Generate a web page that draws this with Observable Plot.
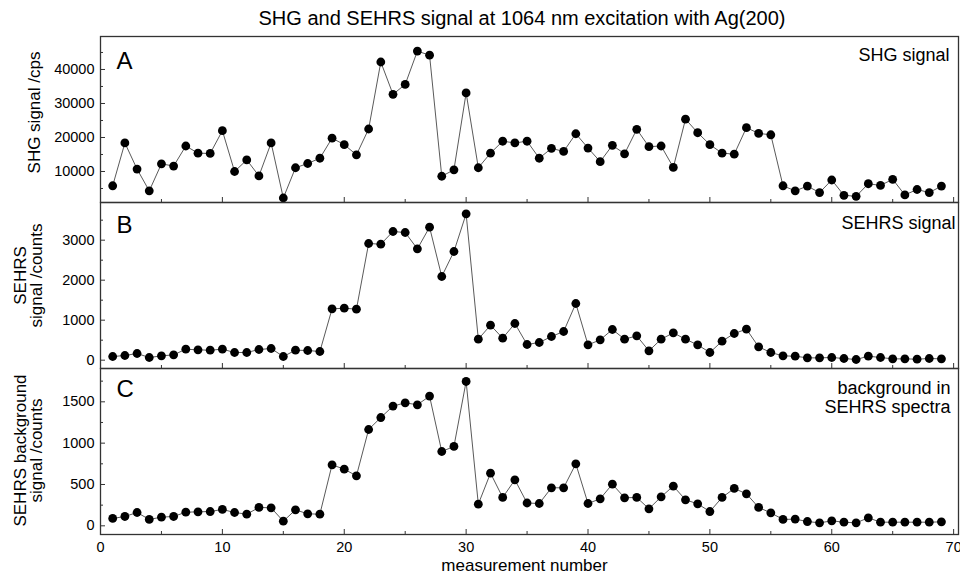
<!DOCTYPE html>
<html>
<head>
<meta charset="utf-8">
<script src="https://cdn.jsdelivr.net/npm/d3@7"></script>
<script src="https://cdn.jsdelivr.net/npm/@observablehq/plot@0.6"></script>
<style>
  html, body { margin: 0; padding: 0; background: #fff; overflow: hidden; }
  #chart { position: relative; width: 960px; height: 575px; font-family: "Liberation Sans", Arial, sans-serif; color: #000; }
  #title { position: absolute; left: 222px; width: 600px; top: 8px; text-align: center; font-size: 20px; line-height: 20px; white-space: nowrap; }
  .panel { position: absolute; left: 0; }
</style>
</head>
<body>
<div id="chart">
  <div id="title">SHG and SEHRS signal at 1064 nm excitation with Ag(200)</div>
</div>
<script>
// ---- data ----
const measurement = [1,2,3,4,5,6,7,8,9,10,11,12,13,14,15,16,17,18,19,20,21,22,23,24,25,26,27,28,29,30,31,32,33,34,35,36,37,38,39,40,41,42,43,44,45,46,47,48,49,50,51,52,53,54,55,56,57,58,59,60,61,62,63,64,65,66,67,68,69];

const shgSignal = [5800,18400,10700,4300,12250,11600,17500,15400,15300,22000,10000,13400,8700,18400,2200,11100,12350,13900,19800,17900,14900,22500,42200,32700,35600,45400,44200,8600,10500,33100,11100,15400,18900,18400,18900,13900,16800,15900,21100,16900,12900,17700,15200,22400,17300,17500,11200,25400,21400,17900,15400,15100,22900,21200,20800,5800,4300,5700,3800,7500,3000,2700,6400,5900,7700,3100,4700,3800,5700];

const sehrsSignal = [92,117,167,67,108,133,275,258,250,275,192,192,267,292,92,250,242,217,1283,1300,1275,2917,2900,3217,3192,2783,3325,2092,2717,3658,525,875,550,917,392,442,592,717,1417,383,508,767,525,608,233,525,683,525,383,192,475,667,775,333,192,108,100,58,58,67,42,17,100,67,33,33,25,42,33];

const sehrsBackground = [89,113,161,77,105,113,165,169,173,198,161,141,222,218,56,194,145,141,738,685,605,1165,1310,1448,1488,1464,1569,899,960,1746,262,637,343,556,276,270,460,460,750,270,327,504,339,343,206,351,480,315,266,173,343,452,387,222,157,77,81,52,36,60,44,36,97,44,44,44,44,44,48];

const xMajorTicks = [0,10,20,30,40,50,60,70];
const xMinorTicks = [5,15,25,35,45,55,65];

const shgMajorTicks = [10000,20000,30000,40000];
const shgMinorTicks = [5000,15000,25000,35000,45000];
const sehrsMajorTicks = [0,1000,2000,3000];
const sehrsMinorTicks = [500,1500,2500,3500];
const bgMajorTicks = [0,500,1000,1500];
const bgMinorTicks = [250,750,1250,1750];

const panelLetters = ["A","B","C"];
const panelNotes = ["SHG signal","SEHRS signal","background in\nSEHRS spectra"];
const yLabels = ["SHG signal /cps","SEHRS\nsignal /counts","SEHRS background\nsignal /counts"];
const xLabel = "measurement number";

// ---- drawing ----
const W = 960, ML = 100, MR = 2;
const innerW = W - ML - MR;
const chart = document.getElementById("chart");
const plain = d => String(d);

function panel(cfg) {
  const data = measurement.map((m, i) => ({m, v: cfg.values[i]}));
  const innerH = cfg.height - 1 - cfg.mb;
  const marks = [
    Plot.ruleX(xMajorTicks, {x: d => d, insetTop: innerH - 5, stroke: "#333", strokeWidth: 1}),
    Plot.ruleX(xMinorTicks, {x: d => d, insetTop: innerH - 3, stroke: "#333", strokeWidth: 1}),
    Plot.ruleY(cfg.yMajor, {y: d => d, insetRight: innerW - 5, stroke: "#333", strokeWidth: 1}),
    Plot.ruleY(cfg.yMinor, {y: d => d, insetRight: innerW - 3, stroke: "#333", strokeWidth: 1}),
    Plot.axisY(cfg.yMajor, {anchor: "left", tickSize: 0, tickPadding: 6, fontSize: 14.5, label: null, tickFormat: plain}),
    Plot.line(data, {x: "m", y: "v", stroke: "#5a5a5a", strokeWidth: 1}),
    Plot.dot(data, {x: "m", y: "v", r: 4.4, fill: "#000", stroke: "none"}),
    Plot.frame({stroke: "#333", strokeWidth: 1.3}),
    Plot.text([cfg.letter], {text: d => d, frameAnchor: "top-left", dx: 16, dy: cfg.letterDy, fontSize: 24, lineAnchor: "top", textAnchor: "start"}),
    Plot.text([cfg.note], {text: d => d, frameAnchor: "top-right", dx: cfg.noteDx, dy: cfg.noteDy, fontSize: 18, lineAnchor: "top", textAnchor: "end", lineHeight: 1.07}),
    Plot.text([cfg.ylabel], {text: d => d, frameAnchor: "left", rotate: -90, dx: cfg.ylabelDx, dy: cfg.ylabelDy, fontSize: 17, lineAnchor: "middle", textAnchor: "middle", lineHeight: 0.94})
  ];
  if (cfg.xAxis) {
    marks.push(Plot.axisX(xMajorTicks, {anchor: "bottom", tickSize: 0, tickPadding: 7, fontSize: 14.5, label: null, tickFormat: plain}));
    marks.push(Plot.text([xLabel], {text: d => d, frameAnchor: "bottom", dx: -5, dy: 31.5, fontSize: 17, lineAnchor: "middle", textAnchor: "middle"}));
  }
  const svg = Plot.plot({
    width: W,
    height: cfg.height,
    marginLeft: ML,
    marginRight: MR,
    marginTop: 1,
    marginBottom: cfg.mb,
    x: {domain: [0, 70.4], axis: null},
    y: {domain: cfg.yDomain, axis: null},
    style: {background: "none", overflow: "visible", fontFamily: "'Liberation Sans', Arial, sans-serif", color: "#000", fontSize: "14.5px"},
    marks
  });
  svg.classList.add("panel");
  svg.style.top = cfg.top + "px";
  chart.appendChild(svg);
}

panel({values: shgSignal, yDomain: [880, 49700], yMajor: shgMajorTicks, yMinor: shgMinorTicks,
  top: 35, height: 168, mb: 1, letter: panelLetters[0], letterDy: 15.5,
  note: panelNotes[0], noteDx: -9, noteDy: 11, ylabel: yLabels[0], ylabelDx: -66, ylabelDy: -7, xAxis: false});

panel({values: sehrsSignal, yDomain: [-208, 3942], yMajor: sehrsMajorTicks, yMinor: sehrsMinorTicks,
  top: 201, height: 168, mb: 1, letter: panelLetters[1], letterDy: 13.5,
  note: panelNotes[1], noteDx: -3, noteDy: 13, ylabel: yLabels[1], ylabelDx: -72, ylabelDy: -10, xAxis: false});

panel({values: sehrsBackground, yDomain: [-105, 1903], yMajor: bgMajorTicks, yMinor: bgMinorTicks,
  top: 367, height: 208, mb: 41, letter: panelLetters[2], letterDy: 11,
  note: panelNotes[2], noteDx: -8, noteDy: 12, ylabel: yLabels[2], ylabelDx: -72, ylabelDy: -1, xAxis: true});
</script>
</body>
</html>
